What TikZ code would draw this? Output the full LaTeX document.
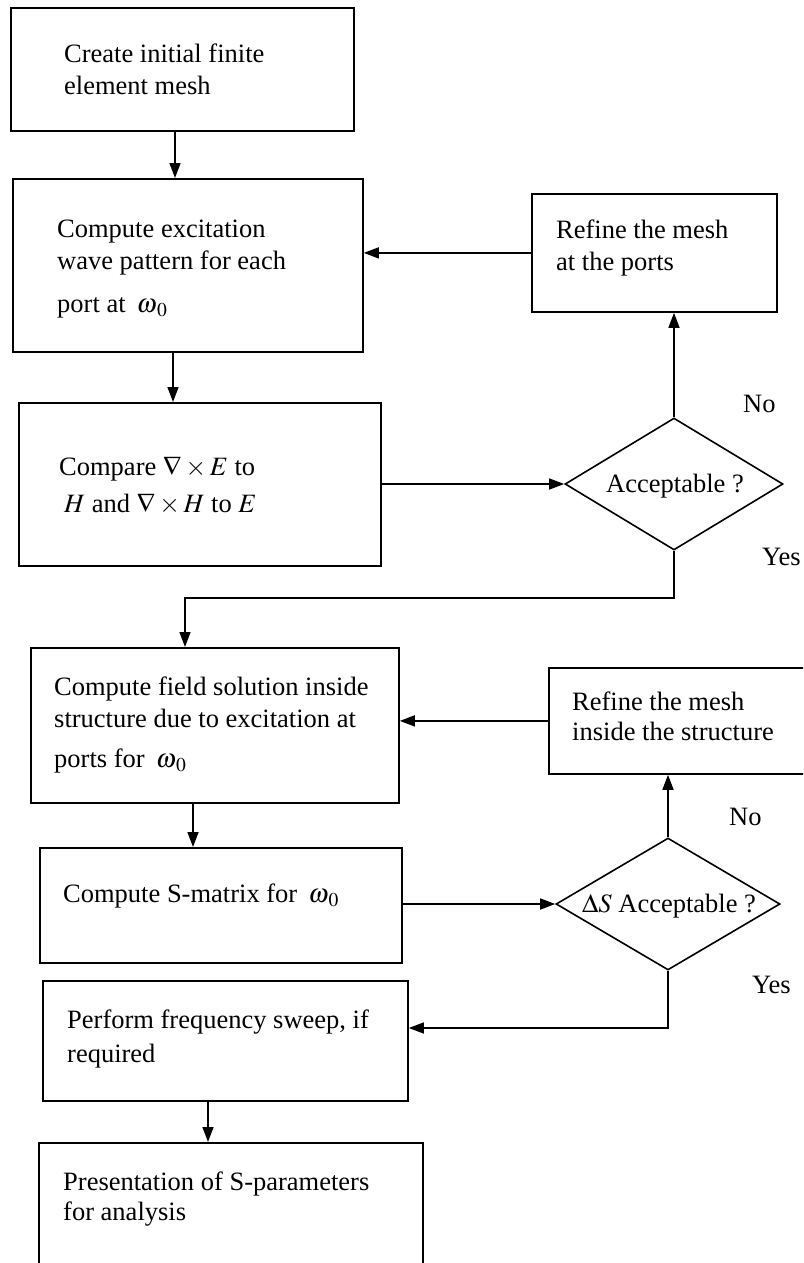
\documentclass[tikz,border=0pt]{standalone}
\usepackage{mathptmx}
\usepackage[no-math]{fontspec}
\setmainfont{Liberation Serif}
\usetikzlibrary{arrows.meta,shapes.geometric}
\newcommand\boxlines[1]{\begin{tabular}[t]{@{}l@{}}#1\end{tabular}}
\newcommand\omz{$\omega_{\,0}$}
\begin{document}
\begin{tikzpicture}[x=1pt,y=-1pt,
  box/.style={draw, line width=1.8pt, inner sep=0pt, anchor=north west},
  diam/.style={draw, diamond, line width=1.6pt, inner sep=0pt},
  txt/.style={inner sep=0pt, anchor=base west, font=\fontsize{26.5}{32}\selectfont},
  ctxt/.style={inner sep=0pt, anchor=base, font=\fontsize{26.5}{32}\selectfont},
  arr/.style={line width=1.5pt, -{Triangle[length=15pt,width=11pt]}}]
\useasboundingbox (0,0) rectangle (803,1263);
\clip (0,0) rectangle (803,1263);
\fill[white] (0,0) rectangle (803,1263);

% boxes
\node[box, minimum width=343pt, minimum height=123pt] (b1) at (10,7) {};
\node[box, minimum width=350pt, minimum height=173pt] (b2) at (12,178) {};
\node[box, minimum width=362pt, minimum height=163pt] (b3) at (18,402) {};
\node[box, minimum width=368pt, minimum height=155pt] (b4) at (30,647) {};
\node[box, minimum width=362pt, minimum height=115pt] (b5) at (39,847) {};
\node[box, minimum width=365pt, minimum height=120pt] (b6) at (42,980) {};
\node[box, minimum width=384pt, minimum height=200pt] (b7) at (38,1142) {};
\node[box, minimum width=245pt, minimum height=118pt] (r1) at (531,193) {};
\node[box, minimum width=300pt, minimum height=106pt] (r2) at (548,667) {};

% decisions
\node[diam, minimum width=218pt, minimum height=132pt] (d1) at (674,484) {};
\node[diam, minimum width=224pt, minimum height=132pt] (d2) at (668,904) {};

% texts
\node[txt] (t1) at (64,63) {\boxlines{Create initial finite\\element mesh}};
\node[txt] (t2) at (57,237) {\boxlines{Compute excitation\\wave pattern for each\\[11pt]port at\ \,\omz}};
\node[txt] (t3) at (59,475) {\boxlines{Compare $\nabla\times E$ to\\[5pt]\hspace*{5pt}$H$ and $\nabla\times H$ to $E$}};
\node[txt] (t4) at (54,695) {\boxlines{Compute field solution inside\\structure due to excitation at\\[8pt]ports for\ \,\omz}};
\node[txt] (t5) at (63,902) {Compute S-matrix for\ \,\omz};
\node[txt] (t6) at (67,1028) {\boxlines{Perform frequency sweep, if\\[2pt]required}};
\node[txt] (t7) at (63,1190) {\boxlines{Presentation of S-parameters\\[-2pt]for analysis}};
\node[txt] (tr1) at (556,238) {\boxlines{Refine the mesh\\at the ports}};
\node[txt] (tr2) at (572,710) {\boxlines{Refine the mesh\\[-2pt]inside the structure}};
\node[ctxt] (td1) at (675,492) {Acceptable ?};
\node[ctxt] (td2) at (669,912) {$\Delta S$ Acceptable ?};

% branch labels
\node[txt] (no1) at (743,412) {No};
\node[txt] (yes1) at (762,565) {Yes};
\node[txt] (no2) at (729,825) {No};
\node[txt] (yes2) at (752,993) {Yes};

% connectors
\draw[arr] (b1.south -| 175,0) -- (b2.north -| 175,0);
\draw[arr] (b2.south -| 173,0) -- (b3.north -| 173,0);
\draw[arr] (b3.east |- d1.west) -- (d1.west);
\draw[arr] (d1.north) -- (d1.north |- r1.south);
\draw[arr] (r1.west) -- (r1.west -| b2.east);
\draw[arr] (d1.south) -- ++(0,47) -| (b4.north -| 185,0);
\draw[arr] (b4.south -| 193,0) -- (b5.north -| 193,0);
\draw[arr] (b5.east |- d2.west) -- (d2.west);
\draw[arr] (d2.north) -- (d2.north |- r2.south);
\draw[arr] (r2.west) -- (r2.west -| b4.east);
\draw[arr] (d2.south) |- (b6.east |- 0,1028);
\draw[arr] (b6.south -| 208,0) -- (b7.north -| 208,0);
\end{tikzpicture}
\end{document}
